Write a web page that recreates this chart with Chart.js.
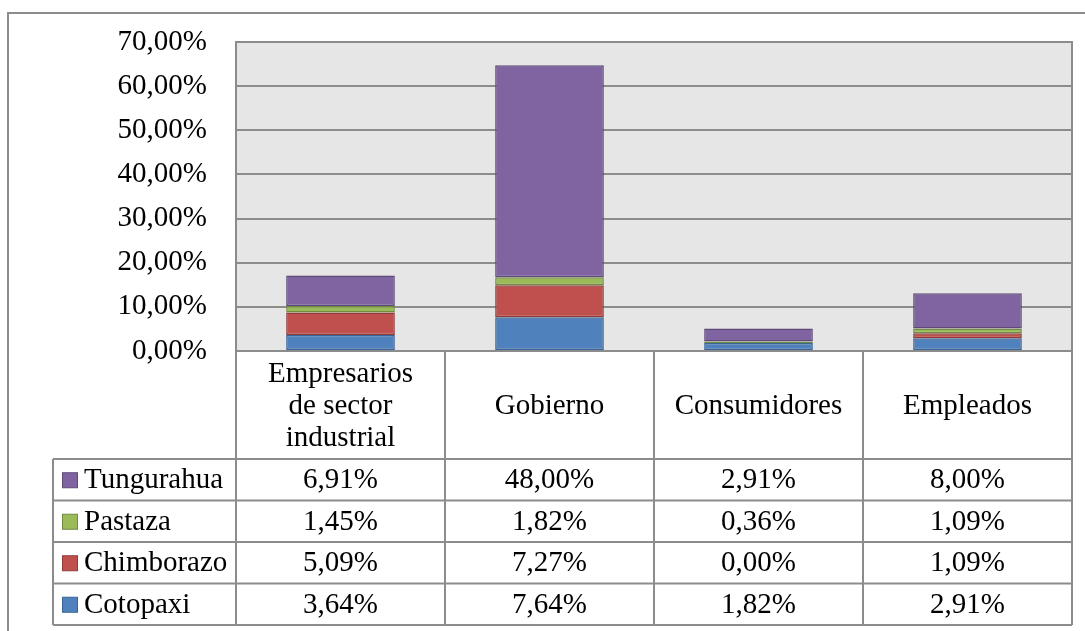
<!DOCTYPE html>
<html>
<head>
<meta charset="utf-8">
<script src="https://cdn.jsdelivr.net/npm/chart.js@4/dist/chart.umd.min.js"></script>
<style>
  html, body { margin: 0; padding: 0; background: #ffffff; }
  #wrap { width: 1085px; height: 631px; position: relative; }
</style>
</head>
<body>
<div id="wrap"><canvas id="c" width="1085" height="631"></canvas></div>
<script>
// Categories (multi-line labels for the table header row)
const categories = [
  ['Empresarios', 'de sector', 'industrial'],
  ['Gobierno'],
  ['Consumidores'],
  ['Empleados']
];

// Series values in percent, per category
const cotopaxi   = [3.64, 7.64, 1.82, 2.91];
const chimborazo = [5.09, 7.27, 0.00, 1.09];
const pastaza    = [1.45, 1.82, 0.36, 1.09];
const tungurahua = [6.91, 48.00, 2.91, 8.00];

// Y axis ticks
const yTicks = [0, 10, 20, 30, 40, 50, 60, 70];

const FONT = '"Liberation Serif", "Times New Roman", serif';
const FONT_SIZE = 29;

const fmt = v => v.toFixed(2).replace('.', ',') + '%';

const series = [
  { label: 'Cotopaxi',   data: cotopaxi,   fill: '#4F81BD', border: '#3A6496' },
  { label: 'Chimborazo', data: chimborazo, fill: '#C0504D', border: '#8E3B39' },
  { label: 'Pastaza',    data: pastaza,    fill: '#9BBB59', border: '#728B42' },
  { label: 'Tungurahua', data: tungurahua, fill: '#8064A2', border: '#5E4A78' }
];

// Frame, plot background and data table drawn around the chart area
const tablePlugin = {
  id: 'dataTable',
  beforeDraw(chart) {
    const { ctx, chartArea: a } = chart;
    ctx.save();
    ctx.fillStyle = '#E6E6E6';
    ctx.fillRect(a.left, a.top, a.right - a.left, a.bottom - a.top);
    // outer frame
    ctx.strokeStyle = '#8C8C8C';
    ctx.lineWidth = 2;
    ctx.beginPath();
    ctx.moveTo(chart.width, 13);
    ctx.lineTo(8, 13);
    ctx.lineTo(8, chart.height);
    ctx.stroke();
    ctx.restore();
  },
  afterDraw(chart) {
    const { ctx, chartArea: a } = chart;
    const x = chart.scales.x;
    const n = categories.length;
    const colW = (a.right - a.left) / n;
    const headerBottom = a.bottom + 108;
    const rowH = 41.5;
    const legendLeft = 53;
    const rows = series.slice().reverse();
    const tableBottom = headerBottom + rowH * rows.length;

    ctx.save();
    ctx.strokeStyle = '#8C8C8C';
    ctx.lineWidth = 2;

    // plot area border
    ctx.strokeRect(a.left, a.top, a.right - a.left, a.bottom - a.top);

    ctx.beginPath();
    // verticals of the category columns
    for (let i = 0; i <= n; i++) {
      const vx = a.left + i * colW;
      ctx.moveTo(vx, a.bottom);
      ctx.lineTo(vx, tableBottom);
    }
    // left edge of legend column
    ctx.moveTo(legendLeft, headerBottom);
    ctx.lineTo(legendLeft, tableBottom);
    // row lines
    for (let r = 0; r <= rows.length; r++) {
      const y = headerBottom + r * rowH;
      ctx.moveTo(legendLeft, y);
      ctx.lineTo(a.right, y);
    }
    ctx.stroke();

    // header labels
    ctx.fillStyle = '#000';
    ctx.font = FONT_SIZE + 'px ' + FONT;
    ctx.textAlign = 'center';
    ctx.textBaseline = 'middle';
    const lineH = 32;
    categories.forEach((lines, i) => {
      const cx = x.getPixelForValue(i);
      const cy = (a.bottom + headerBottom) / 2 + 1;
      const start = cy - (lines.length - 1) * lineH / 2;
      lines.forEach((t, k) => ctx.fillText(t, cx, start + k * lineH));
    });

    // data rows with legend keys
    rows.forEach((s, r) => {
      const cy = headerBottom + r * rowH + rowH / 2 + 1;
      // legend key
      ctx.fillStyle = s.fill;
      ctx.fillRect(62.5, cy - 8, 15, 15);
      ctx.strokeStyle = s.border;
      ctx.lineWidth = 1;
      ctx.strokeRect(62.5, cy - 8, 15, 15);
      ctx.fillStyle = '#000';
      ctx.textAlign = 'left';
      ctx.fillText(s.label, 84, cy);
      ctx.textAlign = 'center';
      s.data.forEach((v, i) => {
        ctx.fillText(fmt(v), x.getPixelForValue(i), cy);
      });
    });
    ctx.restore();
  }
};

new Chart(document.getElementById('c'), {
  type: 'bar',
  data: {
    labels: categories.map(l => l.join(' ')),
    datasets: series.map(s => ({
      label: s.label,
      data: s.data,
      backgroundColor: s.fill,
      borderColor: s.border,
      borderWidth: 1.5,
      borderSkipped: false,
      categoryPercentage: 1,
      barPercentage: 0.52
    }))
  },
  options: {
    responsive: false,
    animation: false,
    events: [],
    layout: { padding: { top: 42, right: 13, bottom: 280, left: 0 } },
    plugins: { legend: { display: false }, tooltip: { enabled: false } },
    scales: {
      x: {
        stacked: true,
        display: false,
        grid: { display: false }
      },
      y: {
        stacked: true,
        min: 0,
        max: 70,
        afterFit(s) {
          s.width = 236;
          s.paddingTop = 0;
          s.paddingBottom = 0;
        },
        afterBuildTicks(s) { s.ticks = yTicks.map(v => ({ value: v })); },
        border: { display: false },
        grid: { color: '#8C8C8C', lineWidth: 2, drawTicks: false },
        ticks: {
          padding: 29,
          color: '#000',
          font: { family: FONT, size: FONT_SIZE },
          callback: v => fmt(v)
        }
      }
    }
  },
  plugins: [tablePlugin]
});
</script>
</body>
</html>
